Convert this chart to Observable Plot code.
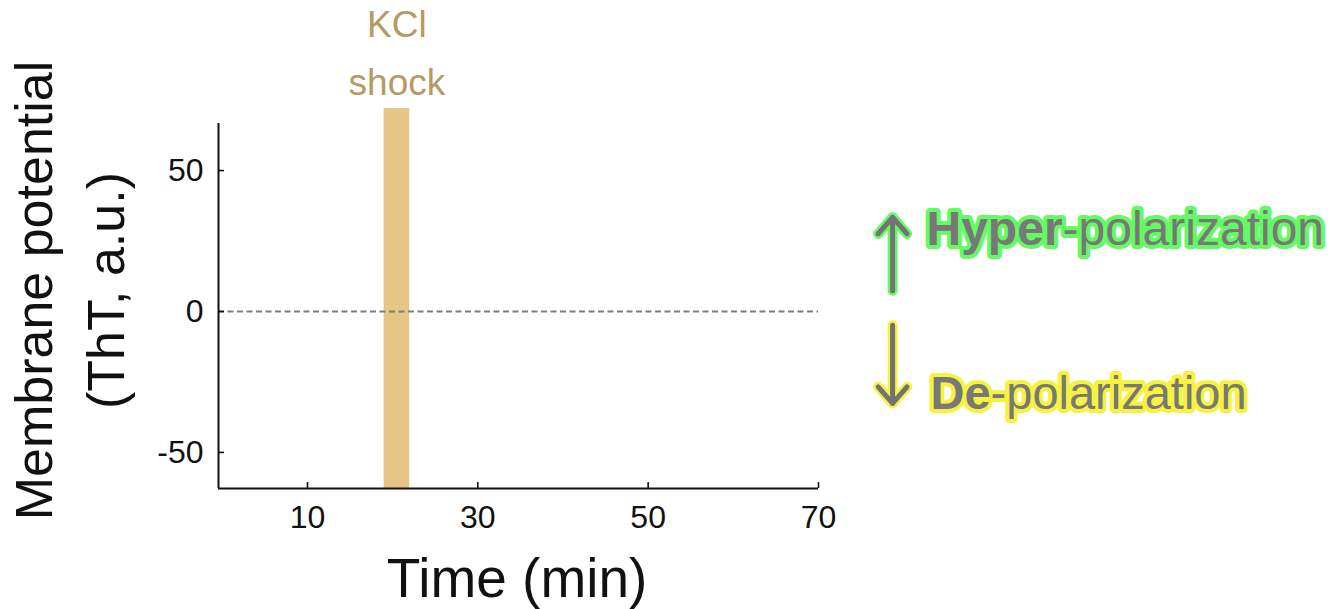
<!DOCTYPE html>
<html>
<head>
<meta charset="utf-8">
<script src="https://cdn.jsdelivr.net/npm/d3@7"></script>
<script src="https://cdn.jsdelivr.net/npm/@observablehq/plot@0.6"></script>
<style>
  html, body { margin: 0; padding: 0; background: #fff; }
  #chart svg { display: block; }
</style>
</head>
<body>
<div id="chart"></div>
<script>
// Axis ticks and extents
const timeTicks = [10, 30, 50, 70];
const potentialTicks = [-50, 0, 50];
const timeRange = [-0.45, 70];
const potentialRange = [-62.8, 66.7];

// KCl shock window (minutes)
const shocks = [{start: 19, end: 22, label: "KCl\nshock"}];

// Reference level of the membrane potential
const baselineLevel = [0];

// Direction annotations
const hyperLabel = ["Hyper-polarization"];
const deLabel = ["De-polarization"];
const emphasis = ["Hyper", "De"];

const font = "'Liberation Sans', Arial, Helvetica, sans-serif";
const ink = "#111";
const annotGray = "#787878";
const green = "#62fb62";
const yellow = "#f6f23e";

const plotW = 1344 - 218 - 526;
const plotH = 609 - 123 - 121;
const tickLen = 6;

const chart = Plot.plot({
  width: 1344,
  height: 609,
  marginLeft: 218,
  marginRight: 526,
  marginTop: 123,
  marginBottom: 121,
  style: {fontFamily: font, color: ink, background: "#fff", overflow: "visible"},
  x: {domain: timeRange},
  y: {domain: potentialRange},
  marks: [
    // shock window
    Plot.rect(shocks, {x1: "start", x2: "end", y1: potentialRange[0], y2: 72, fill: "#e5c685"}),
    Plot.text(shocks, {
      x: d => (d.start + d.end) / 2, text: "label", frameAnchor: "top",
      lineAnchor: "top", lineHeight: 1.55, dy: -127, fontSize: 37, fill: "#b59a62"
    }),
    // zero line
    Plot.ruleY(baselineLevel, {x1: timeRange[0], x2: timeRange[1], stroke: "#7d7d7d", strokeWidth: 1.8, strokeDasharray: "6,3.5"}),
    // axis lines
    Plot.ruleX([timeRange[0]], {y1: potentialRange[0], y2: potentialRange[1], stroke: ink, strokeWidth: 2}),
    Plot.ruleY([potentialRange[0]], {x1: timeRange[0], x2: timeRange[1], stroke: ink, strokeWidth: 2}),
    // inward ticks
    Plot.tickY(potentialTicks, {y: d => d, insetRight: plotW - tickLen, stroke: ink, strokeWidth: 1.6}),
    Plot.tickX(timeTicks, {x: d => d, insetTop: plotH - tickLen, stroke: ink, strokeWidth: 1.6}),
    // tick labels
    Plot.axisY({ticks: potentialTicks, tickSize: 0, tickPadding: 15, fontSize: 32, label: null, tickFormat: d => String(d)}),
    Plot.axisX({ticks: timeTicks, tickSize: 0, tickPadding: 17, fontSize: 32, label: null, tickFormat: d => String(d)}),
    // axis titles
    Plot.text(["Membrane potential\n(ThT, a.u.)"], {
      frameAnchor: "left", textAnchor: "middle", rotate: -90, lineAnchor: "top", lineHeight: 1.39,
      fontSize: 52, dx: -218, dy: -15.5, fill: ink
    }),
    Plot.text(["Time (min)"], {
      frameAnchor: "bottom", lineAnchor: "top", fontSize: 55, dx: -1.5, dy: 69, fill: ink
    }),
    // direction arrows: halo then body
    Plot.arrow([0], {x1: 78.7, x2: 78.7, y1: 7.4, y2: 33.4, stroke: green, strokeWidth: 10, headLength: 3.3, headAngle: 82, ariaLabel: "halo"}),
    Plot.arrow([0], {x1: 78.7, x2: 78.7, y1: -4.9, y2: -32.6, stroke: yellow, strokeWidth: 10, headLength: 3.3, headAngle: 82, ariaLabel: "halo"}),
    Plot.arrow([0], {x1: 78.7, x2: 78.7, y1: 7.4, y2: 33.4, stroke: "#737373", strokeWidth: 5, headLength: 6.6, headAngle: 82}),
    Plot.arrow([0], {x1: 78.7, x2: 78.7, y1: -4.9, y2: -32.6, stroke: "#737373", strokeWidth: 5, headLength: 6.6, headAngle: 82}),
    // direction labels: halo then text
    Plot.text(hyperLabel, {frameAnchor: "right", textAnchor: "start", lineAnchor: "top", dx: 108, dy: -95.5, fontSize: 48,
      fill: green, stroke: green, strokeWidth: 8, strokeLinejoin: "round", ariaLabel: "halo"}),
    Plot.text(deLabel, {frameAnchor: "right", textAnchor: "start", lineAnchor: "top", dx: 112, dy: 69.5, fontSize: 47,
      fill: yellow, stroke: yellow, strokeWidth: 8, strokeLinejoin: "round", ariaLabel: "halo"}),
    Plot.text(hyperLabel, {frameAnchor: "right", textAnchor: "start", lineAnchor: "top", dx: 108, dy: -95.5, fontSize: 48, fill: annotGray}),
    Plot.text(deLabel, {frameAnchor: "right", textAnchor: "start", lineAnchor: "top", dx: 112, dy: 69.5, fontSize: 47, fill: annotGray})
  ]
});

// Bold prefix on the direction labels
d3.select(chart).selectAll("text").each(function () {
  const t = this.textContent;
  const prefix = emphasis.find(p => (hyperLabel.includes(t) || deLabel.includes(t)) && t.startsWith(p));
  if (!prefix) return;
  const sel = d3.select(this);
  sel.text(null);
  sel.append("tspan").attr("font-weight", "bold").text(prefix);
  sel.append("tspan").text(t.slice(prefix.length));
});

// Soft glow behind the direction annotations
const svg = d3.select(chart);
svg.insert("defs", ":first-child")
  .append("filter").attr("id", "soft-glow")
  .attr("x", "-20%").attr("y", "-40%").attr("width", "140%").attr("height", "180%")
  .append("feGaussianBlur").attr("stdDeviation", 2.2);
svg.selectAll('g[aria-label="halo"]').attr("filter", "url(#soft-glow)");

document.getElementById("chart").append(chart);
</script>
</body>
</html>
